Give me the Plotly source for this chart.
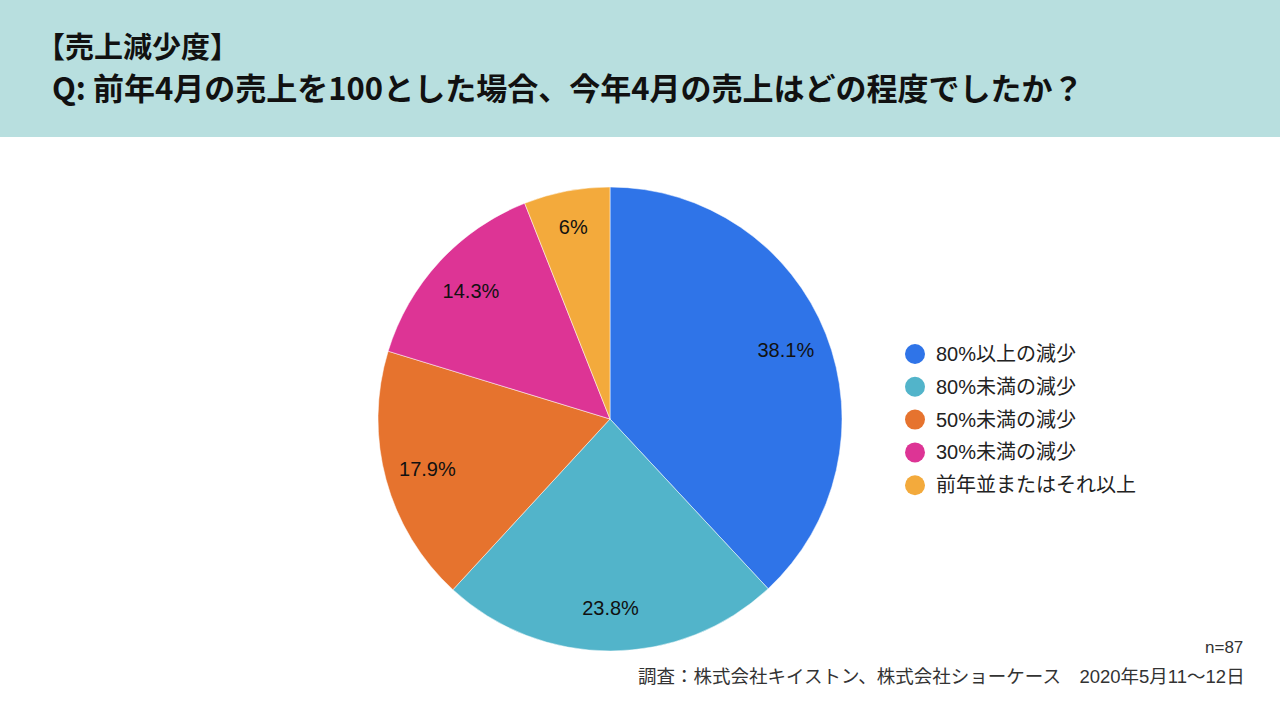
import plotly.graph_objects as go

categories = ["80%以上の減少", "80%未満の減少", "50%未満の減少", "30%未満の減少", "前年並またはそれ以上"]
values = [38.1, 23.8, 17.9, 14.3, 6]
colors = ["#2F74E8", "#52B4CA", "#E6732E", "#DD3495", "#F3AA3C"]
title_line1 = "【売上減少度】"
title_line2 = "Q: 前年4月の売上を100とした場合、今年4月の売上はどの程度でしたか？"
sample_note = "n=87"
source_note = "調査：株式会社キイストン、株式会社ショーケース　2020年5月11〜12日"

FONT = "Liberation Sans, Arial, Noto Sans CJK JP, sans-serif"
W, H = 1280, 720
pie_domain = dict(x=[378 / W, 842 / W], y=[(H - 651) / H, (H - 187) / H])

fig = go.Figure()
# coloured slices
fig.add_trace(go.Pie(
    labels=categories, values=values, sort=False, direction="clockwise", rotation=0,
    marker=dict(colors=colors, line=dict(color="white", width=0.5)),
    textinfo="none", showlegend=False, hoverinfo="label+value",
    domain=pie_domain,
))
# transparent ring carrying the value labels (positions them toward the rim)
fig.add_trace(go.Pie(
    labels=categories, values=values, sort=False, direction="clockwise", rotation=0,
    hole=0.63,
    marker=dict(colors=["rgba(0,0,0,0)"] * len(values), line=dict(width=0)),
    texttemplate="%{value}%", textposition="inside", insidetextorientation="horizontal",
    textfont=dict(family=FONT, size=20, color="#111"),
    showlegend=False, hoverinfo="skip",
    domain=pie_domain,
))

shapes = [dict(type="rect", xref="paper", yref="paper", x0=0, x1=1, y0=(H - 137) / H, y1=1,
               fillcolor="#B8DFDF", line=dict(width=0), layer="below")]
annotations = [
    dict(text=f"<b>{title_line1}</b>", x=34 / W, y=1 - 45 / H, xref="paper", yref="paper",
         xanchor="left", yanchor="middle", showarrow=False,
         font=dict(family="Noto Sans CJK JP", size=29, color="#111")),
    dict(text=f"<b>{title_line2}</b>", x=50 / W, y=1 - 86 / H, xref="paper", yref="paper",
         xanchor="left", yanchor="middle", showarrow=False,
         font=dict(family="Noto Sans CJK JP", size=31, color="#111")),
    dict(text=sample_note, x=1245 / W, y=1 - 647 / H, xref="paper", yref="paper",
         xanchor="right", yanchor="middle", showarrow=False,
         font=dict(family=FONT, size=17, color="#333")),
    dict(text=source_note, x=1247 / W, y=1 - 676 / H, xref="paper", yref="paper",
         xanchor="right", yanchor="middle", showarrow=False,
         font=dict(family=FONT, size=18.5, color="#333")),
]

# custom legend with circle markers
lx, ly0, dy, r = 915, 354, 32.8, 10
for i, (lab, col) in enumerate(zip(categories, colors)):
    cy = ly0 + i * dy
    shapes.append(dict(type="circle", xref="paper", yref="paper",
                       x0=(lx - r) / W, x1=(lx + r) / W, y0=1 - (cy + r) / H, y1=1 - (cy - r) / H,
                       fillcolor=col, line=dict(width=0)))
    annotations.append(dict(text=lab, x=934 / W, y=1 - cy / H, xref="paper", yref="paper",
                            xanchor="left", yanchor="middle", showarrow=False,
                            font=dict(family=FONT, size=20, color="#222")))

fig.update_layout(
    width=W, height=H, margin=dict(l=0, r=0, t=0, b=0),
    paper_bgcolor="white", plot_bgcolor="white",
    shapes=shapes, annotations=annotations,
)
fig.write_html("out.html", config={"displayModeBar": False},
               post_script="document.body.style.margin='0';")
